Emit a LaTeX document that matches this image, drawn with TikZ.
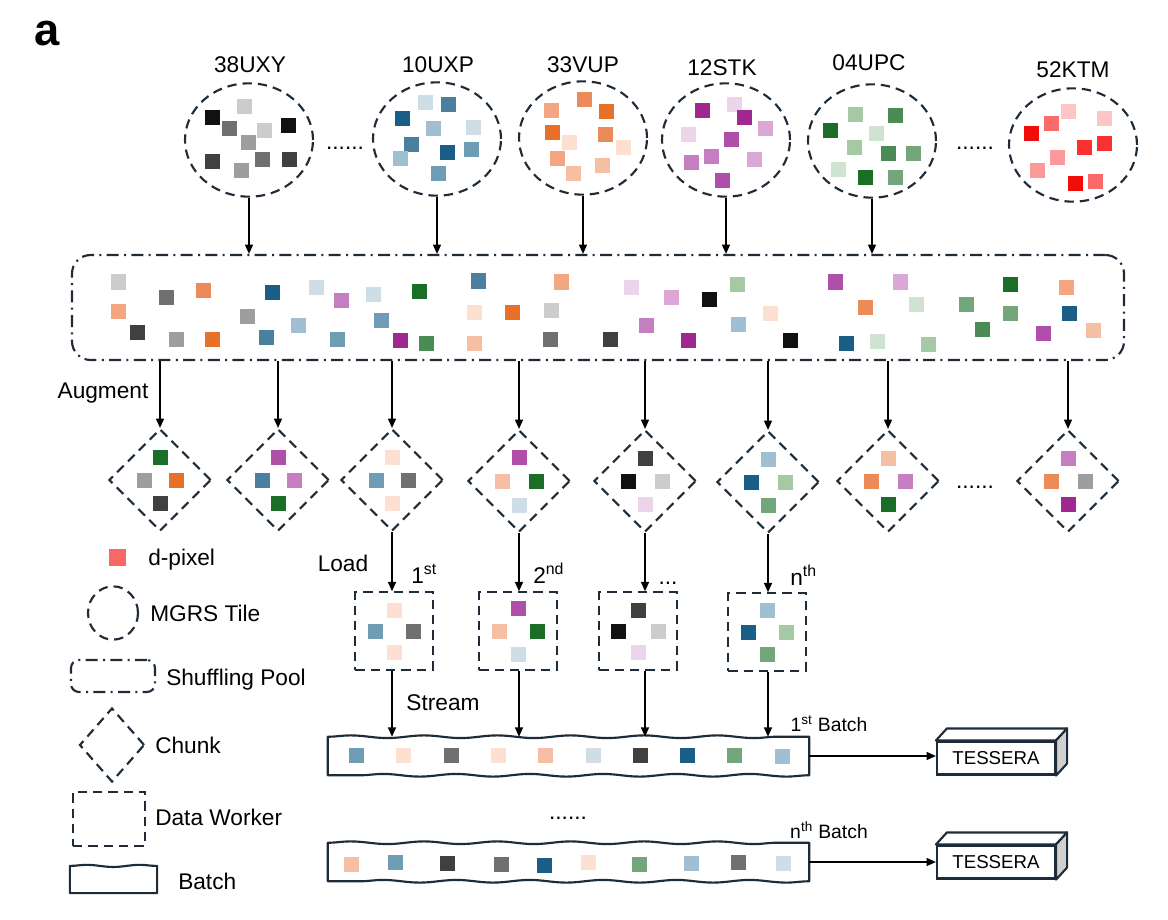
\documentclass[tikz,border=0pt]{standalone}
\usepackage{fontspec}
\setmainfont{Liberation Sans}
\usetikzlibrary{shapes.geometric,arrows.meta,decorations.pathmorphing,calc}
\definecolor{cblk}{HTML}{111111}
\definecolor{cdg}{HTML}{404040}
\definecolor{cg7}{HTML}{707070}
\definecolor{cg9}{HTML}{9E9E9E}
\definecolor{clg}{HTML}{CCCCCC}
\definecolor{cdb}{HTML}{1B5E85}
\definecolor{csb}{HTML}{4A7F9E}
\definecolor{cbg}{HTML}{6F9DB5}
\definecolor{clb}{HTML}{A0BFD3}
\definecolor{cpb}{HTML}{CFDDE6}
\definecolor{cod}{HTML}{E8702A}
\definecolor{com}{HTML}{EC8B5A}
\definecolor{clo}{HTML}{F4A582}
\definecolor{cpe}{HTML}{F6BFA3}
\definecolor{cpp}{HTML}{FDE0D2}
\definecolor{cmg}{HTML}{A0288F}
\definecolor{cpu}{HTML}{B04FA8}
\definecolor{cpl}{HTML}{C57FC0}
\definecolor{clp}{HTML}{DBA7D6}
\definecolor{cpk}{HTML}{ECD4EA}
\definecolor{cgd}{HTML}{1A6E28}
\definecolor{cgm}{HTML}{4A8C54}
\definecolor{cgt}{HTML}{73A77B}
\definecolor{cgl}{HTML}{A5C9A5}
\definecolor{cgp}{HTML}{D0E3D0}
\definecolor{crA}{HTML}{F20D0D}
\definecolor{crB}{HTML}{FB3030}
\definecolor{crC}{HTML}{FB6A6A}
\definecolor{crD}{HTML}{FC9A9A}
\definecolor{crE}{HTML}{FDC5C5}
\definecolor{cleg}{HTML}{F86868}
\definecolor{cline}{HTML}{1E2B38}
\definecolor{cside}{HTML}{D0D0D0}
\newcommand{\pxsq}[3]{\fill[#3] (#1-7.5,#2-7.5) rectangle (#1+7.5,#2+7.5);}
\newcommand{\fourq}[7]{%
  \fill[#4] ([shift={(-7.5,-#3-7.5)}]#1.center) rectangle +(15,15);
  \fill[#5] ([shift={(-#2-7.5,-7.5)}]#1.center) rectangle +(15,15);
  \fill[#6] ([shift={(#2-7.5,-7.5)}]#1.center) rectangle +(15,15);
  \fill[#7] ([shift={(-7.5,#3-7.5)}]#1.center) rectangle +(15,15);}
\begin{document}
\begin{tikzpicture}[x=0.75pt,y=-0.75pt,
  tile/.style={ellipse, draw=cline, line width=1.6pt, dash pattern=on 7pt off 4.5pt, minimum width=96pt, minimum height=85pt, inner sep=0pt},
  chunk/.style={diamond, draw=cline, line width=1.6pt, dash pattern=on 7pt off 4.5pt, minimum width=76.5pt, minimum height=76.5pt, inner sep=0pt},
  worker/.style={rectangle, draw=cline, line width=1.6pt, dash pattern=on 7pt off 4.5pt, minimum width=58pt, minimum height=58pt, inner sep=0pt},
  pool/.style={rectangle, draw=cline, line width=1.6pt, dash pattern=on 9pt off 4pt on 1.5pt off 4pt, rounded corners=14pt, inner sep=0pt},
  batchbox/.style={rectangle, minimum width=360.75pt, minimum height=28.5pt, inner sep=0pt},
  wavy/.style={draw=cline, line width=1.6pt, line join=round},
  arr/.style={draw=black, line width=1.1pt, -{Triangle[length=7pt,width=6pt]}},
  lab/.style={font=\fontsize{17}{20}\selectfont, inner sep=0pt, text height=12.2pt, text depth=0pt},
  slab/.style={font=\fontsize{14.5}{17}\selectfont, inner sep=0pt, text height=10.4pt, text depth=0pt},
  tess/.style={rectangle, draw=cline, line width=1.6pt, fill=white, minimum width=88.5pt, minimum height=24.75pt, inner sep=0pt, font=\fontsize{14}{16}\selectfont},
  snk/.style={decoration={snake, amplitude=1pt, segment length=55pt}}
]
\useasboundingbox (0,0) rectangle (1168,920);

% panel letter
\node[font=\bfseries\fontsize{34}{36}\selectfont, inner sep=0pt, anchor=base] (panel) at (47,46) {a};

% tiles
\node[tile] (t1) at (249,140) {};
\node[tile] (t2) at (437,139) {};
\node[tile] (t3) at (583,138) {};
\node[tile] (t4) at (726,140) {};
\node[tile] (t5) at (872,141) {};
\node[tile] (t6) at (1073,145) {};
\node[lab] (n1) at (250,64) {38UXY};
\node[lab] (n2) at (438,64) {10UXP};
\node[lab] (n3) at (583,64) {33VUP};
\node[lab] (n4) at (722,67) {12STK};
\node[lab] (n5) at (869,62) {04UPC};
\node[lab] (n6) at (1073,69) {52KTM};
\node[lab] (d1) at (345,141) {......};
\node[lab] (d2) at (975,141) {......};

% tile squares
\pxsq{212}{118}{cblk}\pxsq{244}{107}{clg}\pxsq{229}{129}{cg7}\pxsq{264}{131}{clg}\pxsq{288}{126}{cblk}
\pxsq{248}{143}{cg9}\pxsq{212}{162}{cdg}\pxsq{241}{171}{cg9}\pxsq{262}{160}{cg7}\pxsq{289}{160}{cdg}
\pxsq{425}{103}{cpb}\pxsq{448}{105}{csb}\pxsq{402}{119}{cdb}\pxsq{433}{129}{clb}\pxsq{473}{128}{cpb}
\pxsq{411}{145}{csb}\pxsq{400}{159}{clb}\pxsq{447}{153}{cdb}\pxsq{471}{150}{cbg}\pxsq{438}{174}{cbg}
\pxsq{551}{111}{clo}\pxsq{584}{100}{com}\pxsq{606}{112}{cod}\pxsq{552}{133}{cod}\pxsq{569}{143}{cpp}
\pxsq{605}{135}{com}\pxsq{623}{148}{cpp}\pxsq{557}{159}{clo}\pxsq{573}{174}{cpe}\pxsq{602}{166}{cpe}
\pxsq{702}{111}{cmg}\pxsq{734}{105}{cpk}\pxsq{744}{118}{cmg}\pxsq{765}{129}{clp}\pxsq{688}{135}{cpk}
\pxsq{731}{140}{cpu}\pxsq{711}{157}{cpl}\pxsq{691}{163}{cpl}\pxsq{754}{160}{clp}\pxsq{722}{181}{cpu}
\pxsq{855}{115}{cgl}\pxsq{895}{116}{cgm}\pxsq{830}{131}{cgd}\pxsq{876}{134}{cgp}\pxsq{854}{148}{cgl}
\pxsq{888}{154}{cgm}\pxsq{913}{154}{cgt}\pxsq{838}{170}{cgp}\pxsq{865}{178}{cgd}\pxsq{895}{178}{cgt}
\pxsq{1068}{112}{crE}\pxsq{1104}{119}{crE}\pxsq{1051}{124}{crC}\pxsq{1031}{134}{crA}\pxsq{1084}{148}{crB}
\pxsq{1104}{144}{crB}\pxsq{1057}{158}{crD}\pxsq{1037}{171}{crD}\pxsq{1075}{184}{crA}\pxsq{1095}{182}{crC}

% shuffling pool
\node[pool, minimum width=789pt, minimum height=78.75pt] (pool) at (598,307.5) {};
\pxsq{118}{282}{clg}\pxsq{118}{311}{clo}\pxsq{137}{332}{cdg}\pxsq{166}{297}{cg7}\pxsq{176}{339}{cg9}
\pxsq{203}{290}{com}\pxsq{212}{339}{cod}\pxsq{247}{316}{cg9}\pxsq{266}{337}{csb}\pxsq{272}{292}{cdb}
\pxsq{298}{325}{clb}\pxsq{316}{287}{cpb}\pxsq{341}{300}{cpl}\pxsq{337}{339}{cbg}\pxsq{373}{294}{cpb}
\pxsq{381}{320}{cbg}\pxsq{400}{340}{cmg}\pxsq{419}{291}{cgd}\pxsq{426}{343}{cgm}\pxsq{478}{281}{csb}
\pxsq{474}{312}{cpp}\pxsq{474}{343}{cpe}\pxsq{512}{312}{cod}\pxsq{551}{310}{clg}\pxsq{550}{339}{cg7}
\pxsq{561}{282}{clo}\pxsq{610}{339}{cdg}\pxsq{631}{287}{cpk}\pxsq{646}{325}{cpl}\pxsq{671}{297}{clp}
\pxsq{688}{340}{cmg}\pxsq{709}{299}{cblk}\pxsq{737}{284}{cgl}\pxsq{738}{324}{clb}\pxsq{770}{313}{cpp}
\pxsq{790}{340}{cblk}\pxsq{835}{282}{cpu}\pxsq{865}{307}{com}\pxsq{900}{282}{clp}\pxsq{846}{343}{cdb}
\pxsq{877}{341}{cgp}\pxsq{916}{304}{cgp}\pxsq{928}{344}{cgl}\pxsq{966}{304}{cgt}\pxsq{982}{329}{cgm}
\pxsq{1010}{284}{cgd}\pxsq{1010}{313}{cgt}\pxsq{1043}{333}{cpu}\pxsq{1066}{287}{clo}\pxsq{1069}{313}{cdb}
\pxsq{1093}{330}{cpe}

% tile -> pool arrows
\foreach \t in {t1,t2,t3,t4,t5} \draw[arr] (\t.south) -- (\t.south |- pool.north);

% chunks
\node[chunk] (c1) at (160,480) {};
\node[chunk] (c2) at (278,480) {};
\node[chunk] (c3) at (392,480) {};
\node[chunk] (c4) at (519,481) {};
\node[chunk] (c5) at (645,481) {};
\node[chunk] (c6) at (768,482) {};
\node[chunk] (c7) at (888,481) {};
\node[chunk] (c8) at (1068,481) {};
\node[lab] (d3) at (975,480) {......};
\fourq{c1}{16}{23}{cgd}{cg9}{cod}{cdg}
\fourq{c2}{16}{23}{cpu}{csb}{cpl}{cgd}
\fourq{c3}{16}{23}{cpp}{cbg}{cg7}{cpp}
\fourq{c4}{17}{24}{cpu}{cpe}{cgd}{cpb}
\fourq{c5}{17}{23}{cdg}{cblk}{clg}{cpk}
\fourq{c6}{17}{23}{clb}{cdb}{cgl}{cgt}
\fourq{c7}{17}{23}{cpe}{com}{cpl}{cgd}
\fourq{c8}{17}{23}{cpl}{com}{cg9}{cmg}
\foreach \c in {c1,c2,c3,c4,c5,c6,c7,c8} \draw[arr] (\c.north |- pool.south) -- (\c.north);
\node[lab] (aug) at (103,390) {Augment};

% data workers
\node[worker] (w1) at (394,631) {};
\node[worker] (w2) at (518,631) {};
\node[worker] (w3) at (638,631) {};
\node[worker] (w4) at (767,632) {};
\fourq{w1}{19}{21}{cpp}{cbg}{cg7}{cpp}
\fourq{w2}{19}{23}{cpu}{cpe}{cgd}{cpb}
\fourq{w3}{20}{21}{cdg}{cblk}{clg}{cpk}
\fourq{w4}{19}{22}{clb}{cdb}{cgl}{cgt}
\draw[arr] (c3.south) -- (c3.south |- w1.north);
\draw[arr] (c4.south) -- (c4.south |- w2.north);
\draw[arr] (c5.south) -- (c5.south |- w3.north);
\draw[arr] (c6.south) -- (c6.south |- w4.north);
\node[lab] (load) at (343,563) {Load};
\node[lab, anchor=west] (o1) at (411,575) {1\textsuperscript{st}};
\node[lab, anchor=west] (o2) at (533,575) {2\textsuperscript{nd}};
\node[lab] (o3) at (668,576) {...};
\node[lab, anchor=west] (o4) at (790,577) {n\textsuperscript{th}};

% batches
\node[batchbox] (b1) at (568.5,756) {};
\node[batchbox] (b2) at (568.5,862) {};
\draw[wavy] (b1.north west) decorate[snk]{-- (b1.north east)} -- (b1.south east) decorate[snk]{-- (b1.south west)} -- cycle;
\draw[wavy] (b2.north west) decorate[snk]{-- (b2.north east)} -- (b2.south east) decorate[snk]{-- (b2.south west)} -- cycle;
\pxsq{356}{755}{cbg}\pxsq{403}{755}{cpp}\pxsq{451}{755}{cg7}\pxsq{498}{755}{cpp}\pxsq{545}{755}{cpe}
\pxsq{593}{755}{cpb}\pxsq{640}{755}{cdg}\pxsq{687}{755}{cdb}\pxsq{734}{755}{cgt}\pxsq{782}{756}{clb}
\pxsq{351}{864}{cpe}\pxsq{395}{862}{cbg}\pxsq{447}{863}{cdg}\pxsq{501}{864}{cg7}\pxsq{544}{865}{cdb}
\pxsq{588}{862}{cpp}\pxsq{639}{864}{cgt}\pxsq{691}{863}{clb}\pxsq{738}{862}{cg7}\pxsq{783}{863}{cpb}
\draw[arr] (c3.south |- w1.south) -- (c3.south |- b1.north);
\draw[arr] (c4.south |- w2.south) -- (c4.south |- b1.north);
\draw[arr] (c5.south |- w3.south) -- (c5.south |- b1.north);
\draw[arr] (c6.south |- w4.south) -- (c6.south |- b1.north);
\node[lab] (stream) at (443,702) {Stream};
\node[lab] (d4) at (568,811) {......};
\node[slab] (bl1) at (829,725) {1\textsuperscript{st} Batch};
\node[slab] (bl2) at (829,832) {n\textsuperscript{th} Batch};

% TESSERA boxes
\node[tess] (ts1) at (996,758) {TESSERA};
\node[tess] (ts2) at (996,862) {TESSERA};
\foreach \s in {ts1,ts2}{
  \filldraw[fill=white, draw=cline, line width=1.6pt, line join=round] (\s.north west) -- ++(11,-12) -- ($(\s.north east)+(11,-12)$) -- (\s.north east) -- cycle;
  \filldraw[fill=cside, draw=cline, line width=1.6pt, line join=round] (\s.north east) -- ++(11,-12) -- ($(\s.south east)+(11,-12)$) -- (\s.south east) -- cycle;
}
\draw[arr] (b1.east) -- (b1.east -| ts1.west);
\draw[arr] (b2.east) -- (b2.east -| ts2.west);

% legend
\fill[cleg] (108.5,548.5) rectangle (125.5,565.5);
\node[tile, minimum width=37.5pt, minimum height=40pt] (lg1) at (113,613) {};
\node[pool, minimum width=63pt, minimum height=24pt, rounded corners=6pt] (lg2) at (113,676) {};
\node[chunk, minimum width=48.75pt, minimum height=55.5pt] (lg3) at (112,745) {};
\node[worker, minimum width=54pt, minimum height=40.5pt] (lg4) at (109,819) {};
\node[batchbox, minimum width=65pt, minimum height=20pt] (lg5) at (113.5,879.5) {};
\draw[wavy] (lg5.north west) decorate[decoration={snake, amplitude=0.8pt, segment length=40pt}]{-- (lg5.north east)} -- (lg5.south east) -- (lg5.south west) -- cycle;
\node[lab, anchor=west] (lt1) at (148,557) {d-pixel};
\node[lab, anchor=west] (lt2) at (150,613) {MGRS Tile};
\node[lab, anchor=west] (lt3) at (166,677) {Shuffling Pool};
\node[lab, anchor=west] (lt4) at (155,745) {Chunk};
\node[lab, anchor=west] (lt5) at (155,817) {Data Worker};
\node[lab, anchor=west] (lt6) at (178,881) {Batch};
\end{tikzpicture}
\end{document}
